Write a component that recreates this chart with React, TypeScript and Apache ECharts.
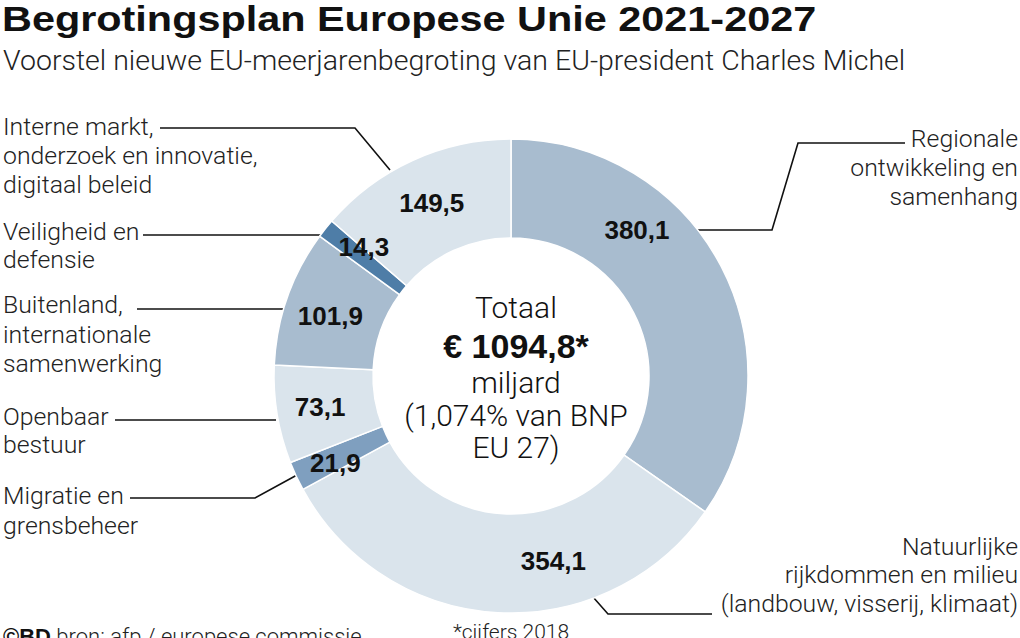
import React, { useEffect, useRef } from "react";
import * as echarts from "echarts";

const categories = [
  "Regionale\nontwikkeling en\nsamenhang",
  "Natuurlijke\nrijkdommen en milieu\n(landbouw, visserij, klimaat)",
  "Migratie en\ngrensbeheer",
  "Openbaar\nbestuur",
  "Buitenland,\ninternationale\nsamenwerking",
  "Veiligheid en\ndefensie",
  "Interne markt,\nonderzoek en innovatie,\ndigitaal beleid",
];
const values = [380.1, 354.1, 21.9, 73.1, 101.9, 14.3, 149.5];
const valueLabels = ["380,1", "354,1", "21,9", "73,1", "101,9", "14,3", "149,5"];
const titleText = "Begrotingsplan Europese Unie 2021-2027";
const subtitleText = "Voorstel nieuwe EU-meerjarenbegroting van EU-president Charles Michel";
const centerLines = ["Totaal", "€ 1094,8*", "miljard", "(1,074% van BNP", "EU 27)"];
const footnote = "*cijfers 2018";
const sourceBrand = "©BD";
const sourceText = " bron: afp / europese commissie";

const sliceColors = ["#a8bccf", "#dae4ec", "#7f9fbf", "#dae4ec", "#a8bccf", "#4e7da7", "#dae4ec"];
const labelOffsets = [[-43, -58], [53, -5], [-3, 7], [-3, 0], [-1, 3], [2, -10], [0, 0]];

const SANS = "'Liberation Sans', Arial, sans-serif";
const LIGHT = "Roboto, 'Liberation Sans', sans-serif";

export default function App() {
  const ref = useRef<HTMLDivElement>(null);
  useEffect(() => {
    if (!ref.current) return;
    const chart = echarts.init(ref.current, null, { renderer: "svg" });

    const catPos: any[] = [
      { x: 1018, y: 124, align: "right", lh: 29 },
      { x: 1018, y: 532, align: "right", lh: 28.5 },
      { x: 3, y: 480, align: "left", lh: 30 },
      { x: 3, y: 402, align: "left", lh: 28 },
      { x: 3, y: 290, align: "left", lh: 29.5 },
      { x: 3, y: 217, align: "left", lh: 28 },
      { x: 3, y: 112, align: "left", lh: 29 },
    ];
    const leaders = [
      [[905, 143], [798, 143], [772, 230], [698, 230]],
      [[593, 597], [608, 614], [712, 614]],
      [[130, 498], [255, 498], [297, 475]],
      [[115, 420], [276, 420]],
      [[137, 309], [285, 309]],
      [[143, 235], [322, 235]],
      [[160, 128], [355, 128], [390, 170]],
    ];

    const graphics: any[] = [
      {
        type: "text",
        x: 2,
        y: 18,
        scaleX: 1.15,
        style: {
          text: titleText,
          font: `bold 36px ${SANS}`,
          fill: "#111",
          textAlign: "left",
          textVerticalAlign: "middle",
        },
      },
      {
        type: "text",
        x: 3,
        y: 60,
        style: {
          text: subtitleText,
          font: `300 28.5px ${LIGHT}`,
          fill: "#222",
          textAlign: "left",
          textVerticalAlign: "middle",
        },
      },
    ];
    categories.forEach((c, i) => {
      const p = catPos[i];
      graphics.push({
        type: "text",
        x: p.x,
        y: p.y,
        style: {
          text: c,
          font: `300 24.8px ${LIGHT}`,
          lineHeight: p.lh,
          fill: "#222",
          textAlign: p.align,
          textVerticalAlign: "top",
        },
      });
      graphics.push({
        type: "polyline",
        shape: { points: leaders[i] },
        style: { stroke: "#111", lineWidth: 1.6, fill: null },
      });
    });
    const centerY = [307, 346, 382, 415, 447];
    centerLines.forEach((t, i) => {
      graphics.push({
        type: "text",
        x: 516,
        y: centerY[i],
        style: {
          text: t,
          font: i === 1 ? `bold 34px ${SANS}` : `300 30px ${LIGHT}`,
          fill: "#111",
          textAlign: "center",
          textVerticalAlign: "middle",
        },
      });
    });
    graphics.push({
      type: "text",
      x: 511,
      y: 632,
      style: {
        text: footnote,
        font: `300 21px ${LIGHT}`,
        fill: "#222",
        textAlign: "center",
        textVerticalAlign: "middle",
      },
    });
    graphics.push({
      type: "text",
      x: 3,
      y: 636,
      style: {
        text: `{b|${sourceBrand}}{r|${sourceText}}`,
        rich: {
          b: { font: `bold 22px ${SANS}`, fill: "#111" },
          r: { font: `300 22px ${LIGHT}`, fill: "#222" },
        },
        textAlign: "left",
        textVerticalAlign: "middle",
      },
    });

    chart.setOption({
      animation: false,
      backgroundColor: "#ffffff",
      series: [
        {
          type: "pie",
          center: [511, 376],
          radius: [138, 237],
          startAngle: 90,
          clockwise: true,
          avoidLabelOverlap: false,
          silent: true,
          itemStyle: { borderColor: "#ffffff", borderWidth: 1.5 },
          labelLine: { show: false },
          data: values.map((v, i) => ({
            name: categories[i],
            value: v,
            itemStyle: { color: sliceColors[i] },
            label: {
              show: true,
              position: "inside",
              formatter: valueLabels[i],
              offset: labelOffsets[i],
              color: "#111",
              fontFamily: SANS,
              fontWeight: "bold",
              fontSize: 26,
            },
          })),
        },
      ],
      graphic: graphics,
    });
    return () => chart.dispose();
  }, []);
  return (
    <div
      ref={ref}
      style={{ position: "fixed", left: 0, top: 0, width: 1020, height: 638, background: "#fff" }}
    />
  );
}
